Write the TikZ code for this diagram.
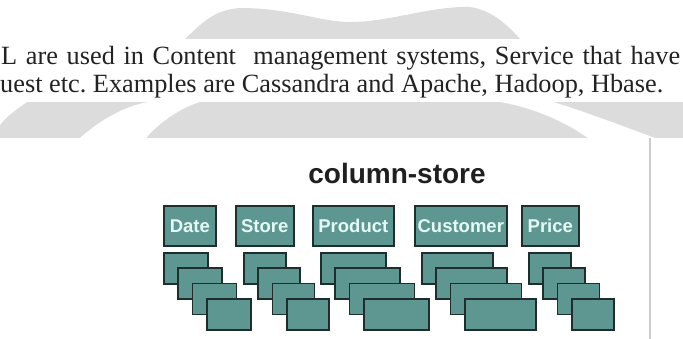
\documentclass[tikz,border=0pt]{standalone}
\usepackage{fontspec}
\setmainfont{Liberation Serif}
\newfontfamily\cellfont{Liberation Sans}
\frenchspacing

\definecolor{cellfill}{RGB}{94,150,146}
\definecolor{celledge}{RGB}{30,46,44}
\definecolor{celltext}{RGB}{228,250,245}
\definecolor{markgray}{RGB}{220,220,220}
\definecolor{rulegray}{RGB}{205,205,205}
\definecolor{textgray}{RGB}{34,34,34}

\tikzset{
  cell/.style={draw=celledge, fill=cellfill, line width=1.6pt, inner sep=0pt,
    minimum height=31pt, anchor=north west},
  headcell/.style={cell, minimum height=40pt, text=celltext,
    font=\cellfont\bfseries\fontsize{18.5}{18.5}\selectfont},
  textline/.style={anchor=base west, inner sep=0pt, text=textgray,
    font=\fontsize{26.3}{26.3}\selectfont},
}

\begin{document}
\begin{tikzpicture}[x=1pt,y=-1pt]
    \useasboundingbox (0,0) rectangle (683,339);

    \coordinate (W1) at (0,39);
    \coordinate (W2) at (683,102);
    \coordinate (G1) at (0,102);
    \coordinate (G2) at (683,138);
    \coordinate (R1) at (650,138);
    \coordinate (R2) at (650,339);

    % watermark behind the text
    \fill[markgray] (185,39) .. controls (205,20) and (215,10) .. (240,8)
        .. controls (290,8) and (320,22) .. (350,22)
        .. controls (390,22) and (430,6) .. (470,7)
        .. controls (490,10) and (505,22) .. (520,39) -- cycle; % top
    \fill[white] (W1) rectangle (W2); % band
    \fill[markgray] (G1) rectangle (G2); % bottom
    \fill[white] (0,102) -- (27,102) .. controls (15,110) and (5,118) .. (0,125) -- cycle;
    \fill[white] (80,138) .. controls (100,120) and (125,106) .. (148,102)
        -- (200,102) .. controls (180,108) and (160,122) .. (146,138) -- cycle;
    \fill[white] (500,102) -- (553,102) .. controls (580,110) and (620,125) .. (655,138)
        -- (588,138) .. controls (565,122) and (535,108) .. (500,102) -- cycle;

    % text lines
    \node[textline] (line1) at (1,65)
        {\makebox[679pt][s]{L are used in Content\ \ management systems, Service that have}};
    \node[textline] (line2) at (0,93)
        {uest etc. Examples are Cassandra and Apache, Hadoop, Hbase.};

    \draw[rulegray, line width=1.5pt] (R1) -- (R2);

    \node[anchor=base, inner sep=0pt, text=black!88,
        font=\cellfont\bfseries\fontsize{28}{28}\selectfont] (title) at (397,184) {column-store};

    % column heads
    \node[headcell, minimum width=52pt] (date) at (163,205) {Date};
    \node[headcell, minimum width=58pt] (store) at (235,205) {Store};
    \node[headcell, minimum width=81pt] (product) at (312,205) {Product};
    \node[headcell, minimum width=92pt] (customer) at (414,205) {Customer};
    \node[headcell, minimum width=57pt] (price) at (521,205) {Price};

    % stacked values
    \foreach \name/\x/\w in {date/163/44, store/243/42, product/320/65, customer/421/71, price/528/42}
        \foreach \i in {0,...,3}
            \node[cell, minimum width=\w pt] (\name-\i) at ({\x+14.3*\i},{252+15.4*\i}) {};
\end{tikzpicture}
\end{document}
